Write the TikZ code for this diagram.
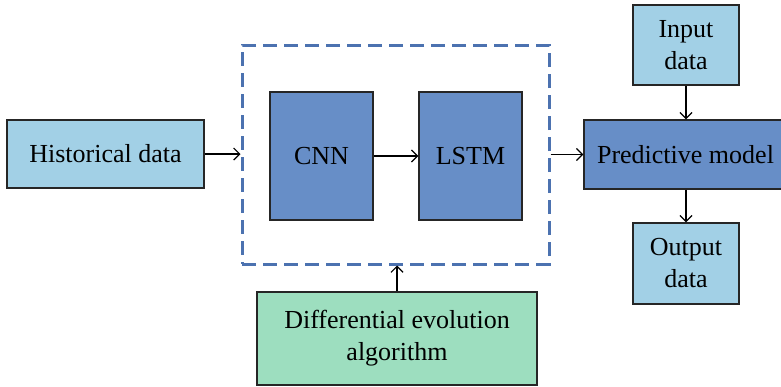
\documentclass[tikz,border=0pt]{standalone}
\usepackage{fontspec}
\setmainfont{Liberation Serif}
\usetikzlibrary{arrows.meta}
\definecolor{lightblue}{RGB}{162,208,230}
\definecolor{darkblue}{RGB}{103,142,199}
\definecolor{lightgreen}{RGB}{157,222,191}
\definecolor{dashblue}{RGB}{76,114,176}
\begin{document}
\begin{tikzpicture}[x=0.5pt,y=-0.5pt,
    box/.style={draw=black!85,line width=0.7pt,align=center,inner sep=0pt,
      font=\fontsize{13}{16}\selectfont},
    light/.style={box,fill=lightblue},
    dark/.style={box,fill=darkblue},
    flow/.style={-{Straight Barb[length=3pt,width=6pt]},line width=0.6pt}]
  \useasboundingbox (0,0) rectangle (781,386);
  \node [light,minimum width=98.5pt,minimum height=34pt] (hist) at (105.5,154) {Historical data};
  \node [draw=dashblue,line width=1.5pt,dash pattern=on 7pt off 3.5pt,
         minimum width=153.5pt,minimum height=109.5pt] (frame) at (395.5,154.5) {};
  \node [dark,minimum width=51.5pt,minimum height=64pt] (cnn) at (321.5,156) {CNN};
  \node [dark,minimum width=51.5pt,minimum height=64pt] (lstm) at (470.5,156) {LSTM};
  \node [dark,minimum width=101.5pt,minimum height=34.5pt] (pred) at (685.5,154.5) {Predictive model};
  \node [light,minimum width=53pt,minimum height=40pt] (input) at (686,45) {Input\\data};
  \node [light,minimum width=53pt,minimum height=40.5pt] (output) at (686,263.5) {Output\\data};
  \node [box,fill=lightgreen,minimum width=140pt,minimum height=46.5pt] (de) at (397,338.5)
        {Differential evolution\\algorithm};
  \draw [flow] (hist) -- (frame.west |- hist);
  \draw [flow] (cnn) -- (lstm);
  \draw [flow] (frame.east |- pred) -- (pred);
  \draw [flow] (input) -- (pred.north -| input);
  \draw [flow] (pred.south -| output) -- (output);
  \draw [flow] (de) -- (de |- frame.south);
\end{tikzpicture}
\end{document}
